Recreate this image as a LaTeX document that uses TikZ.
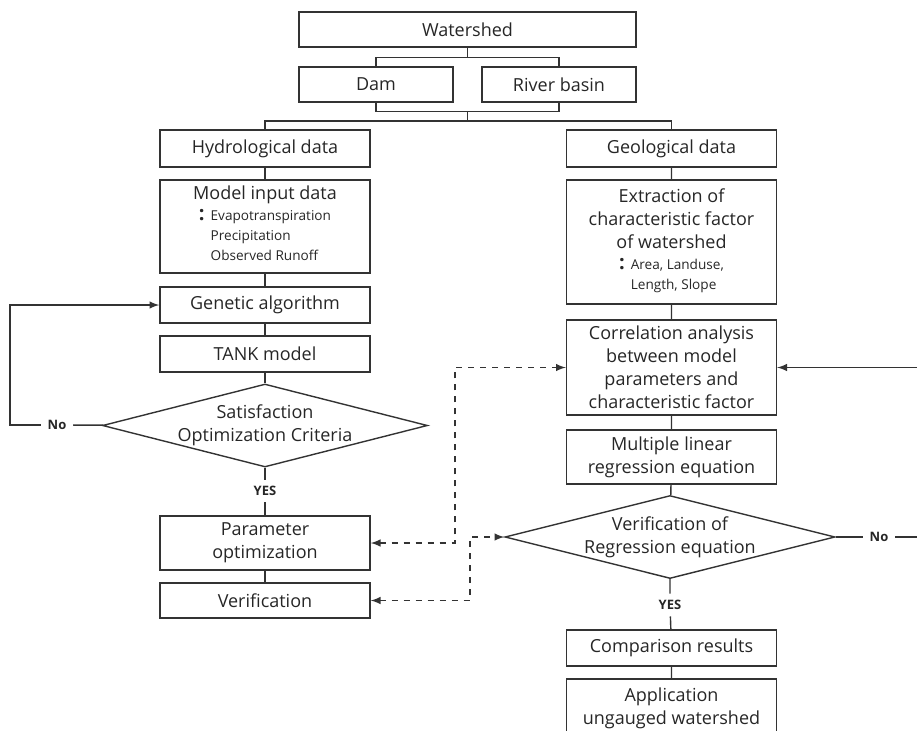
\documentclass[tikz,border=0pt]{standalone}
\usepackage{fontspec}
\setmainfont{Open Sans}
\usetikzlibrary{shapes.geometric}
\newcommand{\subf}{\fontsize{6.8}{10}\selectfont}

\begin{document}
\begin{tikzpicture}[x=0.5pt,y=-0.5pt,>=latex,line width=0.7pt,
  every node/.style={text=black!85},
  box/.style={draw=black!80,minimum width=105pt,minimum height=18pt,inner sep=1pt,
    align=center,font=\fontsize{9}{11.5}\selectfont},
  diam/.style={draw=black!80,diamond,minimum width=#1,minimum height=41.5pt,inner sep=0pt},
  txt/.style={align=center,font=\fontsize{9}{11.5}\selectfont},
  lbl/.style={font=\bfseries\fontsize{6.5}{8}\selectfont,inner sep=3pt}]

  \useasboundingbox (0,0) rectangle (917,730);

  \newcommand\colL{265};
  \newcommand\colR{671.5};

  %% top
  \node[box,minimum width=168.5pt,minimum height=17.5pt] (ws) at (467.5,29.5) {Watershed};
  \node[box,minimum width=77pt,minimum height=17.5pt] (dam) at (376,84.5) {Dam};
  \node[box,minimum width=77pt,minimum height=17.5pt] (river) at (559,84.5) {River basin};
  \coordinate (j1) at (467.5,111);
  \coordinate (j2) at (467.5,121);

  %% left column
  \node[box,minimum height=18.5pt] (hyd) at (\colL,148.5) {Hydrological data};
  \node[box,minimum height=46.5pt] (model) at (\colL,226.5) {Model input data\\[-1pt]
    {\subf\begin{tabular}[t]{@{}r@{\hspace{3pt}}l@{}}{\normalsize\textbf{:}}&Evapotranspiration\\&Precipitation\\&Observed Runoff\end{tabular}}};
  \node[box] (ga) at (\colL,305) {Genetic algorithm};
  \node[box] (tank) at (\colL,354) {TANK model};
  \node[diam=162.5pt] (sat) at (\colL,425.5) {};
  \node[txt] (satt) at (sat) {Satisfaction\\Optimization Criteria};
  \node[lbl] (yes1) at (\colL,491) {YES};
  \node[lbl] (no1) at (57,425) {No};
  \coordinate (lp) at (10,425);
  \node[box,minimum height=27pt] (param) at (\colL,543) {Parameter\\optimization};
  \node[box,minimum height=17.5pt] (verif) at (\colL,600.5) {Verification};

  %% right column
  \node[box,minimum height=18.5pt] (geo) at (\colR,148.5) {Geological data};
  \node[box,minimum height=62pt] (extr) at (\colR,242) {Extraction of\\characteristic factor\\of watershed\\[-1pt]
    {\subf\begin{tabular}[t]{@{}r@{\hspace{3pt}}l@{}}{\normalsize\textbf{:}}&Area,\ Landuse,\\&Length,\ Slope\end{tabular}}};
  \node[box,minimum height=47.5pt] (corr) at (\colR,367.5) {Correlation analysis\\between model\\parameters and\\characteristic factor};
  \node[box,minimum height=27pt] (mlr) at (\colR,457) {Multiple linear\\regression equation};
  \node[diam=165pt] (ver) at (670,537) {};
  \node[txt] (vert) at (ver) {Verification of\\Regression equation};
  \node[lbl] (yes2) at (670,605) {YES};
  \node[lbl] (no2) at (879,537) {No};
  \coordinate (rp) at (925,537);
  \node[box] (comp) at (\colR,648) {Comparison results};
  \node[box,minimum height=29pt] (app) at (\colR,708) {Application\\ungauged watershed};

  \coordinate (d1) at (455,0);
  \coordinate (d2) at (470,0);

  \begin{scope}[draw=black!80]
  \draw (ws.south) -- ++(0,10) -| (dam.north); %% ws->dam
  \draw (ws.south) ++(0,10) -| (river.north); %% ws->river
  \draw (dam.south) -- ++(0,9) -| (river.south);
  \draw (j1) -- (j2) -| (hyd.north);
  \draw (j2) -| (geo.north);

  \draw (hyd) -- (model) -- (ga) -- (tank) -- (sat);
  \draw (sat) -- (yes1) -- (param) -- (verif);
  \draw (sat) -- (no1);
  \draw[->] (no1) -- (lp) |- (ga); %% No->GA

  \draw (geo) -- (extr) -- (corr) -- (mlr) -- (ver);
  \draw (ver) -- (yes2) -- (comp) -- (app);
  \draw (ver) -- (no2);
  \draw[->] (no2) -- (rp) |- (corr.east); %% No->corr

  \draw[<->,dashed] (param.east) -- (param.east -| d1) |- (corr.west);
  \draw[<->,dashed] (verif.east) -- (verif.east -| d2) |- (ver.west);
  \end{scope}

\end{tikzpicture}
\end{document}
